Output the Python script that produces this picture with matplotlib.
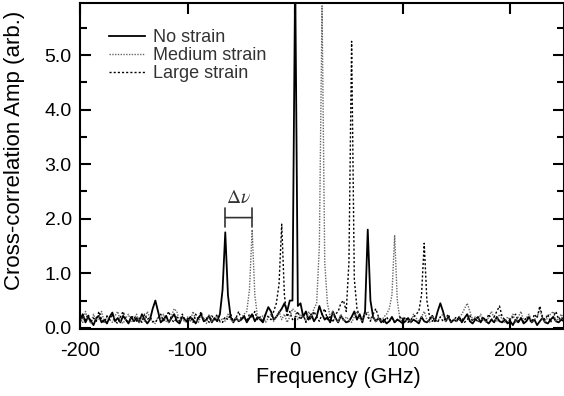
import numpy as np
import matplotlib
matplotlib.use("Agg")
import matplotlib.pyplot as plt
from matplotlib.ticker import MultipleLocator, FormatStrFormatter

plt.rcParams["font.family"] = ["Liberation Sans", "DejaVu Sans"]
plt.rcParams["mathtext.fontset"] = "stix"
plt.rcParams["axes.unicode_minus"] = False

# frequency grid (GHz), one sample every 2.5 GHz from -200 to 250
freq_start = -200.0
freq_step = 2.5

# values, 20 samples (50 GHz) per row
no_strain = [
    0.15, 0.25, 0.1, 0.2, 0.12, 0.05, 0.18, 0.22, 0.1, 0.15, 0.08, 0.2, 0.28, 0.12, 0.18, 0.1, 0.22, 0.15, 0.08, 0.2,
    0.12, 0.18, 0.1, 0.25, 0.15, 0.08, 0.15, 0.35, 0.5, 0.3, 0.1, 0.15, 0.22, 0.1, 0.18, 0.25, 0.12, 0.08, 0.2, 0.15,
    0.1, 0.2, 0.15, 0.08, 0.18, 0.25, 0.12, 0.15, 0.22, 0.1, 0.18, 0.12, 0.25, 0.7, 1.75, 0.6, 0.2, 0.1, 0.18, 0.12,
    0.15, 0.22, 0.1, 0.18, 0.25, 0.12, 0.2, 0.15, 0.1, 0.25, 0.38, 0.3, 0.15, 0.2, 0.28, 0.35, 0.45, 0.3, 0.5, 0.5,
    6.5, 0.4, 0.45, 0.2, 0.3, 0.15, 0.25, 0.12, 0.2, 0.4, 0.25, 0.15, 0.2, 0.1, 0.3, 0.18, 0.1, 0.22, 0.15, 0.1,
    0.12, 0.2, 0.3, 0.15, 0.25, 0.1, 0.3, 1.8, 0.5, 0.2, 0.12, 0.18, 0.1, 0.15, 0.08, 0.12, 0.2, 0.1, 0.15, 0.12,
    0.08, 0.12, 0.18, 0.1, 0.15, 0.12, 0.08, 0.2, 0.12, 0.1, 0.15, 0.22, 0.12, 0.3, 0.45, 0.3, 0.12, 0.2, 0.1, 0.15,
    0.12, 0.2, 0.1, 0.18, 0.25, 0.12, 0.08, 0.15, 0.2, 0.1, 0.18, 0.12, 0.08, 0.15, 0.1, 0.2, 0.12, 0.1, 0.15, 0.08,
    0.12, 0.05, 0.15, 0.1, 0.18, 0.08, 0.12, 0.2, 0.1, 0.15, 0.05, 0.12, 0.18, 0.1, 0.08, 0.15, 0.2, 0.12, 0.1, 0.15,
    0.12,
]

medium_strain = [
    0.2, 0.1, 0.3, 0.15, 0.08, 0.25, 0.12, 0.18, 0.3, 0.1, 0.2, 0.15, 0.1, 0.22, 0.3, 0.12, 0.08, 0.18, 0.25, 0.1,
    0.15, 0.25, 0.1, 0.2, 0.12, 0.3, 0.18, 0.1, 0.08, 0.2, 0.15, 0.25, 0.12, 0.1, 0.22, 0.35, 0.3, 0.12, 0.18, 0.1,
    0.2, 0.12, 0.3, 0.15, 0.1, 0.22, 0.18, 0.08, 0.25, 0.12, 0.15, 0.2, 0.1, 0.18, 0.12, 0.25, 0.15, 0.1, 0.2, 0.12,
    0.18, 0.25, 0.3, 0.7, 1.8, 0.6, 0.2, 0.15, 0.22, 0.1, 0.18, 0.25, 0.12, 0.2, 0.3, 0.15, 0.25, 0.1, 0.2, 0.35,
    0.3, 0.15, 0.25, 0.2, 0.12, 0.3, 0.2, 0.35, 0.45, 1.5, 5.9, 1.2, 0.45, 0.2, 0.3, 0.15, 0.1, 0.25, 0.12, 0.2,
    0.15, 0.1, 0.2, 0.3, 0.18, 0.12, 0.25, 0.3, 0.15, 0.2, 0.1, 0.18, 0.12, 0.2, 0.25, 0.35, 0.6, 1.7, 0.5, 0.15,
    0.2, 0.12, 0.15, 0.1, 0.25, 0.18, 0.12, 0.2, 0.3, 0.15, 0.1, 0.22, 0.15, 0.12, 0.2, 0.25, 0.12, 0.18, 0.1, 0.15,
    0.12, 0.2, 0.25, 0.35, 0.45, 0.3, 0.15, 0.2, 0.12, 0.25, 0.15, 0.1, 0.2, 0.3, 0.18, 0.12, 0.25, 0.15, 0.1, 0.2,
    0.15, 0.25, 0.1, 0.2, 0.3, 0.12, 0.18, 0.25, 0.1, 0.15, 0.2, 0.35, 0.15, 0.1, 0.2, 0.25, 0.3, 0.12, 0.18, 0.25,
    0.15,
]

large_strain = [
    0.1, 0.2, 0.15, 0.25, 0.1, 0.18, 0.12, 0.3, 0.15, 0.1, 0.22, 0.15, 0.25, 0.12, 0.08, 0.2, 0.3, 0.15, 0.1, 0.18,
    0.22, 0.12, 0.18, 0.1, 0.25, 0.15, 0.2, 0.12, 0.1, 0.18, 0.25, 0.12, 0.2, 0.3, 0.15, 0.1, 0.2, 0.12, 0.25, 0.15,
    0.12, 0.2, 0.1, 0.25, 0.15, 0.3, 0.12, 0.18, 0.1, 0.22, 0.15, 0.25, 0.12, 0.1, 0.2, 0.15, 0.25, 0.12, 0.18, 0.3,
    0.15, 0.2, 0.12, 0.25, 0.18, 0.3, 0.15, 0.2, 0.12, 0.25, 0.2, 0.15, 0.3, 0.45, 0.8, 1.9, 0.6, 0.2, 0.3, 0.15,
    0.2, 0.3, 0.15, 0.25, 0.1, 0.2, 0.15, 0.3, 0.2, 0.12, 0.25, 0.35, 0.15, 0.2, 0.1, 0.25, 0.3, 0.45, 0.5, 0.3,
    1.2, 5.25, 0.9, 0.35, 0.2, 0.15, 0.3, 0.2, 0.12, 0.25, 0.35, 0.2, 0.15, 0.1, 0.2, 0.12, 0.18, 0.1, 0.15, 0.2,
    0.12, 0.2, 0.1, 0.15, 0.2, 0.25, 0.3, 0.6, 1.55, 0.5, 0.2, 0.12, 0.15, 0.1, 0.2, 0.12, 0.18, 0.25, 0.1, 0.15,
    0.2, 0.12, 0.18, 0.1, 0.15, 0.22, 0.12, 0.18, 0.1, 0.15, 0.2, 0.12, 0.25, 0.15, 0.2, 0.3, 0.4, 0.2, 0.15, 0.1,
    0.15, 0.2, 0.25, 0.12, 0.18, 0.1, 0.2, 0.15, 0.1, 0.25, 0.18, 0.4, 0.2, 0.15, 0.25, 0.1, 0.2, 0.3, 0.15, 0.2,
    0.12,
]

series_labels = ["No strain", "Medium strain", "Large strain"]

# spacing marker between neighbouring peaks
delta_from = -65
delta_to = -40
delta_level = 2.02

freq = freq_start + freq_step * np.arange(len(no_strain))

fig = plt.figure(figsize=(5.64, 3.96), dpi=100)
ax = fig.add_axes([0.142, 0.168, 0.858, 0.824])

ax.plot(freq, no_strain, color="black", lw=1.3, label=series_labels[0])
ax.plot(freq, medium_strain, color="#666666", lw=1.0, ls=(0, (1, 1)), label=series_labels[1])
ax.plot(freq, large_strain, color="black", lw=1.0, ls=(0, (1.5, 1.5)), label=series_labels[2])

ax.set_xlim(-200, 250)
ax.set_ylim(-0.03, 5.95)

ax.xaxis.set_major_locator(MultipleLocator(100))
ax.yaxis.set_major_locator(MultipleLocator(1))
ax.yaxis.set_minor_locator(MultipleLocator(0.5))
ax.yaxis.set_major_formatter(FormatStrFormatter("%.1f"))

ax.tick_params(which="both", direction="in", top=True, right=True, width=1.5)
ax.tick_params(which="major", length=8)
ax.tick_params(which="minor", length=5)
ax.tick_params(axis="x", pad=8, labelsize=14.5)
ax.tick_params(axis="y", pad=6, labelsize=14)
for sp in ax.spines.values():
    sp.set_linewidth(1.5)

ax.set_xlabel("Frequency (GHz)", fontsize=15.5)
ax.xaxis.set_label_coords(0.533, -0.115)
ax.set_ylabel("Cross-correlation Amp (arb.)", fontsize=16)
ax.yaxis.set_label_coords(-0.114, 0.55)

leg = ax.legend(loc="upper left", bbox_to_anchor=(0.027, 0.97), frameon=False,
                fontsize=13, handlelength=1.95, labelspacing=0.05, handletextpad=0.45)
for t in leg.get_texts():
    t.set_color("#333333")

ax.annotate("", xy=(delta_from, delta_level), xytext=(delta_to, delta_level),
            arrowprops=dict(arrowstyle="|-|", mutation_scale=7, lw=1.2, color="#333333",
                            shrinkA=0, shrinkB=0))
ax.text((delta_from + delta_to) / 2, delta_level + 0.2, r"$\Delta\nu$",
        ha="center", va="bottom", fontsize=14, color="#333333")

fig.savefig("out.png", dpi=100)
